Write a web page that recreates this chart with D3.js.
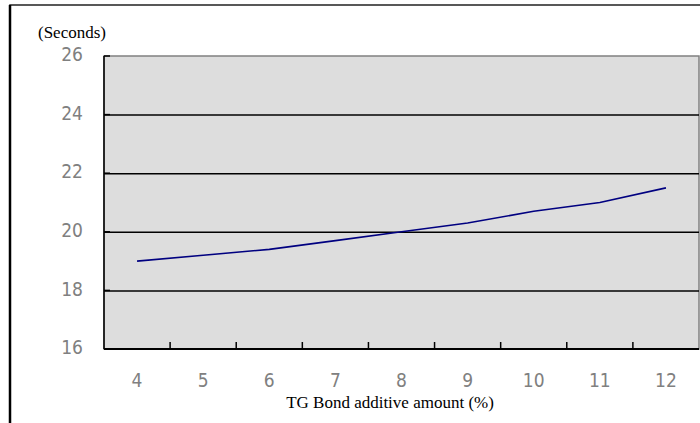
<!DOCTYPE html>
<html>
<head>
<meta charset="utf-8">
<script src="https://cdn.jsdelivr.net/npm/d3@7"></script>
<style>
  body { margin: 0; background: #fff; }
  .tick-label text { font-family: "Liberation Sans Narrow", "DejaVu Sans Condensed", "Liberation Sans", sans-serif; font-size: 19px; fill: #808080; }
  .axis-title { font-family: "Liberation Serif", "DejaVu Serif", serif; font-size: 17px; fill: #000; }
</style>
</head>
<body>
<div id="chart"></div>
<script>
// values
const additive = ["4", "5", "6", "7", "8", "9", "10", "11", "12"];
const seconds = [19.0, 19.2, 19.4, 19.7, 20.0, 20.3, 20.7, 21.0, 21.5];
const yTicks = [16, 18, 20, 22, 24, 26];

const W = 700, H = 423;
const margin = { top: 56, right: 1, bottom: 74, left: 104 };
const width = W - margin.left - margin.right;
const height = H - margin.top - margin.bottom;

const svg = d3.select("#chart")
  .append("svg")
  .attr("width", W)
  .attr("height", H);

// outer frame (runs off the right and bottom edges)
svg.append("rect")
  .attr("x", 10)
  .attr("y", 5)
  .attr("width", W + 20)
  .attr("height", H + 20)
  .attr("fill", "none")
  .attr("stroke", "#222")
  .attr("stroke-width", 1.5);
svg.append("line")
  .attr("x1", 10).attr("x2", 10)
  .attr("y1", 5).attr("y2", H)
  .attr("stroke", "#000")
  .attr("stroke-width", 2.5);

const g = svg.append("g")
  .attr("transform", "translate(" + margin.left + "," + margin.top + ")");

const x = d3.scaleBand()
  .domain(additive)
  .range([0, width])
  .paddingInner(0)
  .paddingOuter(0);

const y = d3.scaleLinear()
  .domain([16, 26])
  .range([height, 0]);

// plot area
g.append("rect")
  .attr("width", width)
  .attr("height", height)
  .attr("fill", "#dddddd")
  .attr("stroke", "#808080")
  .attr("stroke-width", 1.5);

// gridlines
g.append("g")
  .attr("class", "grid")
  .call(d3.axisLeft(y).tickValues(yTicks.slice(1, -1)).tickSize(-width).tickFormat(""))
  .call(s => s.select(".domain").remove())
  .call(s => s.selectAll("line").attr("stroke", "#000").attr("stroke-width", 1.5));

// y tick marks (inside)
g.selectAll(".ytick")
  .data(yTicks)
  .join("line")
  .attr("class", "ytick")
  .attr("x1", 0).attr("x2", 6)
  .attr("y1", d => y(d)).attr("y2", d => y(d))
  .attr("stroke", "#000")
  .attr("stroke-width", 1.5);

// x tick marks between categories (inside)
g.selectAll(".xtick")
  .data(additive.slice(1))
  .join("line")
  .attr("class", "xtick")
  .attr("x1", d => x(d)).attr("x2", d => x(d))
  .attr("y1", height).attr("y2", height - 7)
  .attr("stroke", "#000")
  .attr("stroke-width", 1.5);

// axis lines
g.append("line")
  .attr("x1", 0).attr("x2", 0)
  .attr("y1", 0).attr("y2", height)
  .attr("stroke", "#000")
  .attr("stroke-width", 1.5);
g.append("line")
  .attr("x1", 0).attr("x2", width)
  .attr("y1", height).attr("y2", height)
  .attr("stroke", "#000")
  .attr("stroke-width", 2);

// y labels
g.append("g")
  .attr("class", "tick-label")
  .call(d3.axisLeft(y).tickValues(yTicks).tickSize(0).tickPadding(21))
  .call(s => s.select(".domain").remove())
  .call(s => s.selectAll("text").attr("dy", "0.25em"));

// x labels
g.append("g")
  .attr("class", "tick-label")
  .attr("transform", "translate(0," + height + ")")
  .call(d3.axisBottom(x).tickSize(0).tickPadding(24.5))
  .call(s => s.select(".domain").remove());

// line
const line = d3.line()
  .x((d, i) => x(additive[i]) + x.bandwidth() / 2)
  .y(d => y(d));

g.append("path")
  .datum(seconds)
  .attr("d", line)
  .attr("fill", "none")
  .attr("stroke", "#000080")
  .attr("stroke-width", 1.6);

// titles
svg.append("text")
  .attr("class", "axis-title")
  .attr("x", 38)
  .attr("y", 38)
  .text("(Seconds)");

svg.append("text")
  .attr("class", "axis-title")
  .attr("x", 390)
  .attr("y", 408)
  .style("text-anchor", "middle")
  .text("TG Bond additive amount (%)");
</script>
</body>
</html>
